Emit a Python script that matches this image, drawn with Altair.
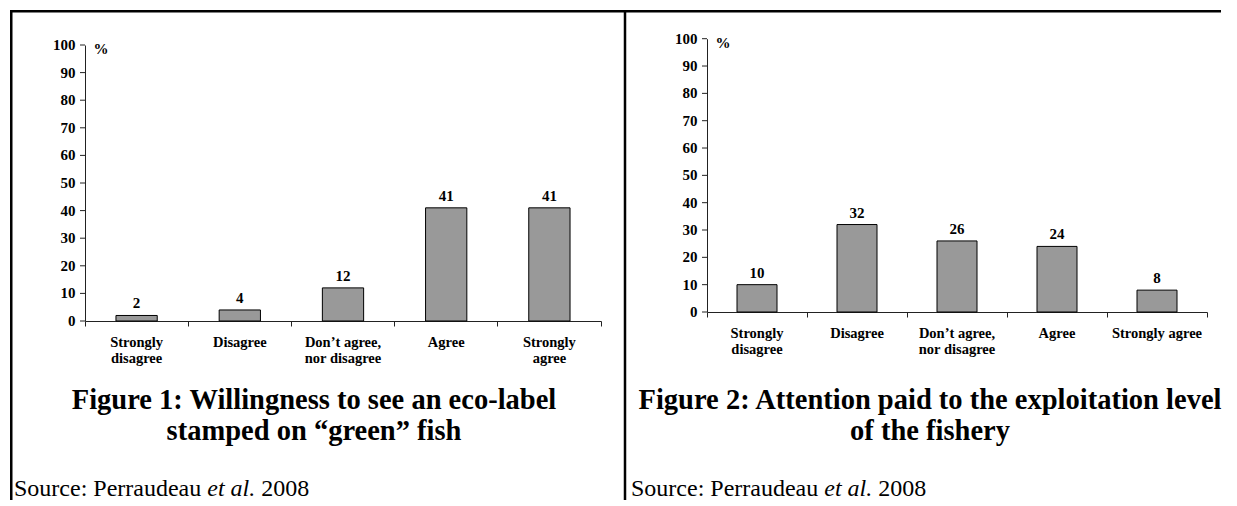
import altair as alt
import pandas as pd

# ---------------- data ----------------
cats1 = ["Strongly|disagree", "Disagree", "Don’t agree,|nor disagree", "Agree", "Strongly|agree"]
vals1 = [2, 4, 12, 41, 41]
cats2 = ["Strongly|disagree", "Disagree", "Don’t agree,|nor disagree", "Agree", "Strongly agree"]
vals2 = [10, 32, 26, 24, 8]
y_ticks = [0, 10, 20, 30, 40, 50, 60, 70, 80, 90, 100]
title1 = "Figure 1: Willingness to see an eco-label\nstamped on “green” fish"
title2 = "Figure 2: Attention paid to the exploitation level\nof the fishery"
src_a = "Source: Perraudeau"
src_b = "et al."
src_c = "2008"

SERIF = "Liberation Serif"


def one(text):
    return pd.DataFrame({"t": [text]})


def rule(x1, x2, y1, y2):
    return alt.Chart(one("r")).mark_rule(color="black", strokeWidth=2.5).encode(
        x=alt.value(x1), x2=alt.value(x2), y=alt.value(y1), y2=alt.value(y2)
    )


def txt(text, x, y, **kw):
    return alt.Chart(one(text)).mark_text(font=SERIF, color="black", **kw).encode(
        text="t:N", x=alt.value(x), y=alt.value(y)
    )


def panel(cats, vals, width, yrange, xoff, top100, title, title_x, src_x, borders):
    df = pd.DataFrame({"cat": cats, "val": vals})
    tdf = pd.DataFrame({"v": y_ticks})
    xenc = alt.X(
        "cat:N", sort=cats,
        scale=alt.Scale(paddingInner=0, paddingOuter=0),
        axis=alt.Axis(
            title=None, bandPosition=1, tickExtra=True, labelAngle=0,
            labelExpr="isValid(datum.value) ? split(datum.value, '|') : ''",
            labelFont=SERIF, labelFontWeight="bold", labelFontSize=14.5,
            labelColor="black", labelLineHeight=16, labelPadding=9,
            labelOverlap=False,
            tickSize=5, tickColor="#222", domainColor="#222",
            offset=xoff, grid=False,
        ),
    )
    yscale = alt.Scale(domain=[0, 100], range=yrange, nice=False)
    yaxis = alt.Axis(title=None, grid=False, ticks=False, labels=False,
                     domainColor="#222")
    yenc = alt.Y("val:Q", scale=yscale, axis=yaxis)
    yenc_t = alt.Y("v:Q", scale=yscale, axis=yaxis)

    bars = alt.Chart(df).mark_bar(
        fill="#999999", stroke="black", strokeWidth=1,
        width=alt.RelativeBandSize(0.4),
    ).encode(x=xenc, y=yenc)
    labels = alt.Chart(df).mark_text(
        font=SERIF, fontWeight="bold", fontSize=15, color="black",
        baseline="alphabetic", dy=-7,
    ).encode(x=xenc, y=yenc, text="val:Q")
    yticks = alt.Chart(tdf).mark_rule(color="#222", strokeWidth=1).encode(
        y=yenc_t, x=alt.value(-5), x2=alt.value(0)
    )
    ylabels = alt.Chart(tdf).mark_text(
        font=SERIF, fontWeight="bold", fontSize=15, color="black",
        align="right", baseline="middle",
    ).encode(y=yenc_t, x=alt.value(-9.5), text="v:Q")
    pct = txt("%", 16, top100 + 4, fontWeight="bold", fontSize=15, baseline="middle")
    ttl = txt(title, title_x, 364, fontWeight="bold", fontSize=28.5, align="center",
              baseline="alphabetic", lineBreak="\n", lineHeight=31)
    s1 = txt(src_a, src_x, 451, fontSize=24, align="left", baseline="alphabetic")
    s2 = txt(src_b, src_x + 193.3, 451, fontSize=24, align="left",
             baseline="alphabetic", fontStyle="italic")
    s3 = txt(src_c, src_x + 247.3, 451, fontSize=24, align="left", baseline="alphabetic")
    layers = [bars, labels, yticks, ylabels, pct, ttl, s1, s2, s3] + borders
    return alt.layer(*layers).properties(width=width, height=276)


left_borders = [
    rule(-75, 540, -33.75, -33.75),    # top border
    rule(-73.75, -73.75, -35, 455),    # left border
    rule(540, 540, -35, 455),          # middle divider
]
left = panel(cats1, vals1, 516, [276, 0], 0, 0, title1, 229, -71, left_borders)

right_borders = [
    rule(-82, 514, -33.75, -33.75),
]
right = panel(cats2, vals2, 500, [267, -6.3], -9, -6.3, title2, 223, -76, right_borders)

chart = alt.hconcat(left, right, spacing=106, bounds="flush").resolve_scale(
    x="independent", y="independent"
).properties(padding=0).configure_view(strokeWidth=0)

chart.save("out.html", embed_options={"renderer": "svg", "actions": False})
